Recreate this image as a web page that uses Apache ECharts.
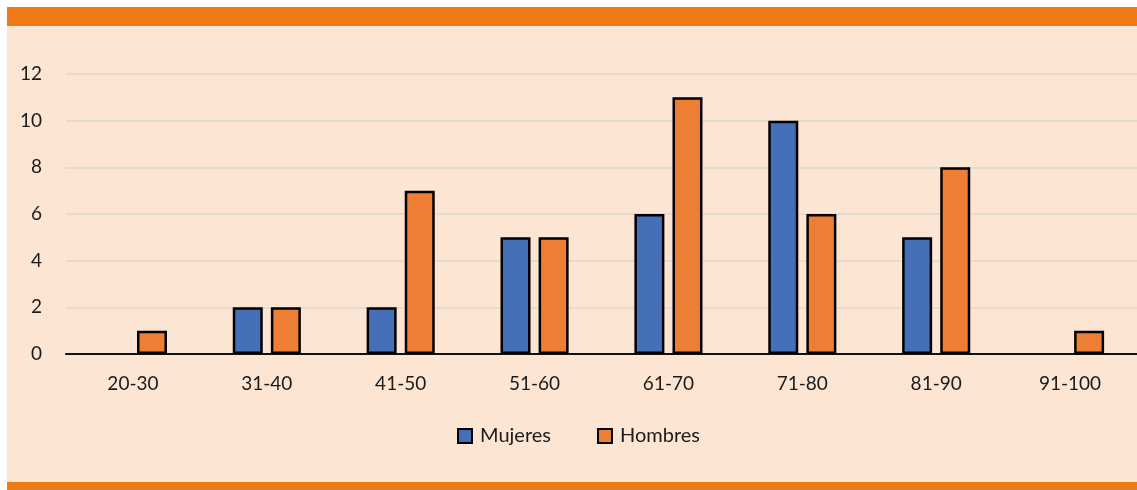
<!DOCTYPE html>
<html>
<head>
<meta charset="utf-8">
<script src="https://cdn.jsdelivr.net/npm/echarts@6/dist/echarts.min.js"></script>
<style>
html,body{margin:0;padding:0;background:#ffffff;}
#chart{width:1137px;height:490px;}
</style>
</head>
<body>
<div id="chart"></div>
<script>
const categories = ['20-30','31-40','41-50','51-60','61-70','71-80','81-90','91-100'];
const mujeres = [0, 2, 2, 5, 6, 10, 5, 0];
const hombres = [1, 2, 7, 5, 11, 6, 8, 1];
const seriesNames = ['Mujeres','Hombres'];

const FONT = 'Lato';
// zero-height bars draw no outline
const toItems = arr => arr.map(v => v === 0 ? {value: 0, itemStyle: {borderWidth: 0}} : v);

const chart = echarts.init(document.getElementById('chart'));
chart.setOption({
  backgroundColor: '#ffffff',
  animation: false,
  graphic: [
    {type:'rect', z:-10, silent:true, shape:{x:7,y:7,width:1130,height:483}, style:{fill:'#FDE5D3'}},
    {type:'rect', z:-9, silent:true, shape:{x:7,y:7,width:1130,height:19}, style:{fill:'#EF7B17'}},
    {type:'rect', z:-9, silent:true, shape:{x:7,y:482,width:1130,height:8}, style:{fill:'#EF7B17'}}
  ],
  grid: {left:66, right:0, top:74, bottom:136, containLabel:false},
  legend: {
    left: 457, top: 426, padding: 0,
    itemWidth: 14, itemHeight: 14, itemGap: 46,
    icon: 'rect',
    textStyle: {fontFamily: FONT, fontSize: 20, color: '#1a1a1a', padding:[0,0,0,3]},
    data: seriesNames
  },
  xAxis: {
    type: 'category',
    data: categories,
    axisLine: {show:true, lineStyle:{color:'#111', width:2}},
    axisTick: {show:false},
    axisLabel: {fontFamily: FONT, fontSize: 19, color: '#1a1a1a', margin: 20}
  },
  yAxis: {
    type: 'value',
    min: 0, max: 12, interval: 2,
    axisLine: {show:false},
    axisTick: {show:false},
    axisLabel: {fontFamily: FONT, fontSize: 19, color: '#1a1a1a', margin: 24},
    splitLine: {lineStyle:{color:'#D9D9D9', width:1.5}}
  },
  series: [
    {
      name: seriesNames[0], type: 'bar', data: toItems(mujeres),
      barWidth: 30, barGap: '27%',
      itemStyle: {color:'#4570B7', borderColor:'#000', borderWidth:2.5}
    },
    {
      name: seriesNames[1], type: 'bar', data: toItems(hombres),
      barWidth: 30, barGap: '27%',
      itemStyle: {color:'#EE7E33', borderColor:'#000', borderWidth:2.5}
    }
  ]
});
</script>
</body>
</html>
